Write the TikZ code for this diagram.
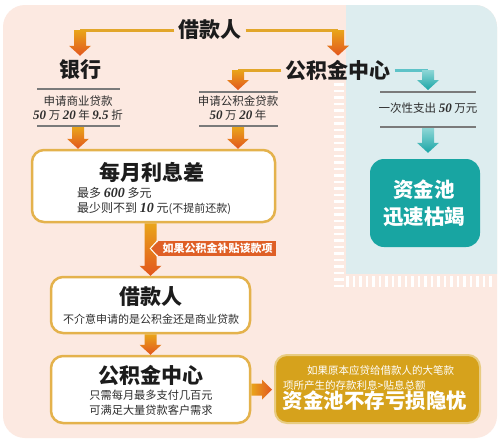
\documentclass[tikz,border=0pt]{standalone}
\usepackage{fontspec}
\setmainfont{Noto Sans CJK SC}
\newfontfamily\numf{Liberation Serif}
\usetikzlibrary{calc}
\definecolor{pinkbg}{HTML}{FCE9E1}
\definecolor{bluebg}{HTML}{DDEDEF}
\definecolor{goldln}{HTML}{E2A62A}
\definecolor{boxbd}{HTML}{E4B24C}
\definecolor{orangeA}{HTML}{E9A51B}
\definecolor{orangeB}{HTML}{E2561E}
\definecolor{tealA}{HTML}{8ED6D6}
\definecolor{tealB}{HTML}{1AA6A6}
\definecolor{tealbox}{HTML}{18A5A2}
\definecolor{tealln}{HTML}{5EC3C8}
\definecolor{tagor}{HTML}{DF5F26}
\definecolor{goldbox}{HTML}{D6A21C}
\definecolor{grayln}{HTML}{7A7A7A}
\definecolor{titlec}{HTML}{1C1C1C}
\definecolor{txtc}{HTML}{2E2E2E}
\newcommand\numb[1]{{\numf\bfseries\itshape #1}}
% vertical block arrow: from, to, top colour, bottom colour
\newcommand\varrow[4]{\path[top color=#3,bottom color=#4] let \p1=#1, \p2=#2 in
  (\x1-6pt,\y1) -- (\x1+6pt,\y1) -- (\x1+6pt,\y2+10pt) -- (\x1+11pt,\y2+10pt) -- (\x1,\y2)
  -- (\x1-11pt,\y2+10pt) -- (\x1-6pt,\y2+10pt) -- cycle;}
% horizontal block arrow
\newcommand\harrow[4]{\path[left color=#3,right color=#4] let \p1=#1, \p2=#2 in
  (\x1,\y1-6pt) -- (\x2-10pt,\y1-6pt) -- (\x2-10pt,\y1-10pt) -- (\x2,\y1) -- (\x2-10pt,\y1+10pt)
  -- (\x2-10pt,\y1+6pt) -- (\x1,\y1+6pt) -- cycle;}
\begin{document}
\begin{tikzpicture}[x=1pt,y=-1pt,
  ttl/.style={font=\bfseries\fontsize{21}{25}\selectfont, text=titlec, inner sep=4pt},
  sub/.style={font=\fontsize{11.5}{14}\selectfont, text=txtc, inner sep=1pt},
  goldline/.style={draw=goldln, line width=3pt},
  tealline/.style={draw=tealln, line width=3pt},
  grayline/.style={draw=grayln, line width=1.2pt},
  wbox/.style={draw=boxbd, line width=2.5pt, fill=white, rounded corners=12pt, inner sep=0pt},
  wtxt/.style={text=white, inner sep=1pt}]
\fill[white] (0,0) rectangle (500,445);
\useasboundingbox (0,0) rectangle (500,445);
% backgrounds
\fill[pinkbg, rounded corners=22pt] (3,5) rectangle (497,438);
\begin{scope}
  \clip[rounded corners=22pt] (3,5) rectangle (497,438);
  \fill[bluebg] (346,0) rectangle (500,274);
\end{scope}
\draw[white, line width=10pt, dash pattern=on 2.5pt off 4pt] (339,83) -- (339,287);
\draw[white, line width=11pt, dash pattern=on 2.5pt off 4pt] (346,281) -- (494,281);

% titles
\node[ttl] (top) at (210,30) {借款人};
\node[ttl] (bank) at (80,70) {银行};
\node[ttl] (gjj) at (338,70) {公积金中心};

% left column
\coordinate (la1) at (37,89); \coordinate (la2) at (120,89);
\coordinate (lb1) at (37,126); \coordinate (lb2) at (120,126);
\draw[grayline] (la1) -- (la2);
\draw[grayline] (lb1) -- (lb2);
\node[sub] (l1) at (78,101) {申请商业贷款};
\node[sub] (l2) at (78,115) {\numb{\fontsize{13}{14}\selectfont 50} 万 \numb{\fontsize{13}{14}\selectfont 20} 年 \numb{\fontsize{13}{14}\selectfont 9.5} 折};

% middle column
\coordinate (ma1) at (199,92); \coordinate (ma2) at (278,92);
\coordinate (mb1) at (199,126); \coordinate (mb2) at (278,126);
\draw[grayline] (ma1) -- (ma2);
\draw[grayline] (mb1) -- (mb2);
\node[sub] (m1) at (238,101) {申请公积金贷款};
\node[sub] (m2) at (238,115) {\numb{\fontsize{13}{14}\selectfont 50} 万 \numb{\fontsize{13}{14}\selectfont 20} 年};

% right column
\coordinate (ra1) at (380,92); \coordinate (ra2) at (476,92);
\coordinate (rb1) at (380,127); \coordinate (rb2) at (476,127);
\draw[grayline] (ra1) -- (ra2);
\draw[grayline] (rb1) -- (rb2);
\node[sub] (r1) at (428,108) {一次性支出 \numb{\fontsize{13}{14}\selectfont 50} 万元};

% boxes
\node[wbox, minimum width=243pt, minimum height=72pt] (box1) at (153.5,186) {};
\node[ttl] (box1t) at (152,172) {每月利息差};
\node[sub, anchor=west, font=\fontsize{12}{14}\selectfont] (box1a) at (76,193) {最多 \numb{\fontsize{14}{15}\selectfont 600} 多元};
\node[sub, anchor=west, font=\fontsize{12}{14}\selectfont] (box1b) at (76,209) {最少则不到 \numb{\fontsize{14}{15}\selectfont 10} 元{\fontsize{11}{13}\selectfont (不提前还款)}};

\node[wbox, minimum width=199pt, minimum height=56pt] (box2) at (150.5,305) {};
\node[ttl] (box2t) at (150.5,297) {借款人};
\node[sub, font=\fontsize{11}{13}\selectfont] (box2a) at (151,319) {不介意申请的是公积金还是商业贷款};

\node[wbox, minimum width=199pt, minimum height=67pt] (box3) at (150.5,389.5) {};
\node[ttl] (box3t) at (151,375) {公积金中心};
\node[sub, font=\fontsize{11.2}{13}\selectfont] (box3a) at (151,395) {只需每月最多支付几百元};
\node[sub, font=\fontsize{11.2}{13}\selectfont] (box3b) at (151,410) {可满足大量贷款客户需求};

\node[fill=tealbox, rounded corners=14pt, minimum width=110pt, minimum height=88pt, inner sep=0pt] (tbox) at (425,203) {};
\node[wtxt, font=\bfseries\fontsize{20.5}{24}\selectfont] (tb1) at (424,190) {资金池};
\node[wtxt, font=\bfseries\fontsize{20.5}{24}\selectfont] (tb2) at (424,217) {迅速枯竭};

\node[fill=goldbox, draw=goldbox!55!white, line width=2pt, rounded corners=12pt, minimum width=205pt, minimum height=68pt, inner sep=0pt] (gbox) at (377.5,389) {};
\node[wtxt, anchor=west, font=\fontsize{10.5}{12}\selectfont] (gb1) at (306,370) {如果原本应贷给借款人的大笔款};
\node[wtxt, anchor=west, font=\fontsize{10.5}{12}\selectfont] (gb2) at (282,385) {项所产生的存款利息>贴息总额};
\node[wtxt, font=\bfseries\fontsize{20.5}{24}\selectfont] (gb3) at (375,401) {资金池不存亏损隐忧};

% connectors
\draw[goldline] (top.west) -- (top.west -| bank.north);
\draw[goldline] (top.east) -- (top.east -| gjj.north);
\varrow{(top.west -| bank.north)}{(bank.north)}{orangeA}{orangeB}
\varrow{(top.east -| gjj.north)}{(gjj.north)}{orangeA}{orangeB}
\draw[goldline] (gjj.west) -- (gjj.west -| m1);
\varrow{(gjj.west -| m1)}{($(ma1 -| m1)+(0,-2)$)}{orangeA}{orangeB}
\draw[tealline] (gjj.east) -- (gjj.east -| r1);
\varrow{(gjj.east -| r1)}{($(ra1 -| r1)+(0,-2)$)}{tealA}{tealB}
\varrow{($(lb1 -| l1)+(0,1)$)}{(box1.north -| l1)}{orangeA}{orangeB}
\varrow{($(mb1 -| m1)+(0,1)$)}{(box1.north -| m1)}{orangeA}{orangeB}
\varrow{($(rb1 -| r1)+(0,1)$)}{($(tbox.north -| r1)+(0,-6)$)}{tealA}{tealB}
\varrow{(box2.north |- box1.south)}{(box2.north)}{orangeA}{orangeB}
\varrow{(box2.south)}{(box3.north)}{orangeA}{orangeB}
\harrow{(box3.east)}{($(gbox.west)+(-2,0)$)}{orangeA}{orangeB}

% tag
\node[fill=tagor, text=white, font=\bfseries\fontsize{11}{13}\selectfont, minimum width=117pt, minimum height=15pt, inner sep=0pt] (tag) at (217.5,248.5) {如果公积金补贴该款项};
\fill[tagor] (tag.north west) -- ($(tag.west)+(-7,0)$) -- (tag.south west) -- cycle;
\draw[white, line width=1pt] ($(tag.north west)+(-1.5,0)$) -- ($(tag.west)+(-8.5,0)$) -- ($(tag.south west)+(-1.5,0)$);
\end{tikzpicture}
\end{document}
